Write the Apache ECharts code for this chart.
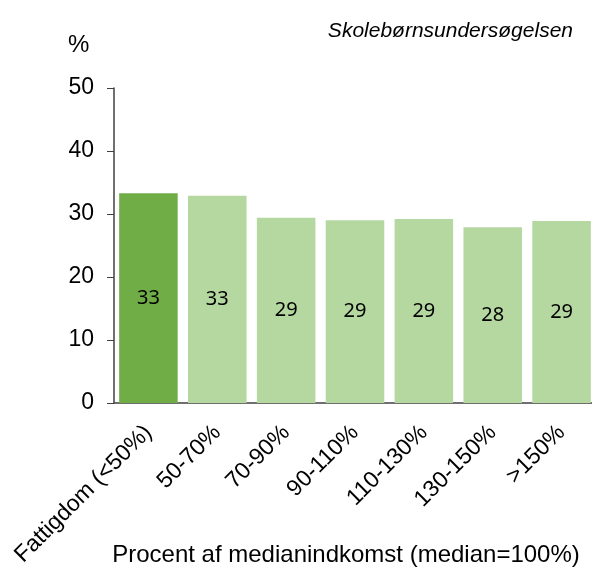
<!DOCTYPE html>
<html>
<head>
<meta charset="utf-8">
<script src="https://cdn.jsdelivr.net/npm/echarts@6/dist/echarts.min.js"></script>
<style>
  html, body { margin: 0; padding: 0; background: #fff; }
  #chart { width: 592px; height: 567px; }
</style>
</head>
<body>
<div id="chart"></div>
<script>
// 数据
const categories = ["Fattigdom (<50%)", "50-70%", "70-90%", "90-110%", "110-130%", "130-150%", ">150%"];
const values = [33.3, 32.9, 29.4, 29.0, 29.2, 27.9, 28.9];
const barColors = ["#70ad47", "#b5d8a0", "#b5d8a0", "#b5d8a0", "#b5d8a0", "#b5d8a0", "#b5d8a0"];
const yTicks = { min: 0, max: 50, interval: 10 };

const FONT = "Liberation Sans";

let chart = echarts.init(document.getElementById("chart"), null, { renderer: "canvas" });

chart.setOption({
  animation: false,
  backgroundColor: "#fff",
  title: [{
    text: "Skolebørnsundersøgelsen",
    right: 14,
    top: 16,
    textStyle: { fontFamily: FONT, fontStyle: "italic", fontWeight: "normal", fontSize: 21, color: "#000" }
  }, {
    text: "%",
    left: 63,
    top: 28,
    textStyle: { fontFamily: FONT, fontWeight: "normal", fontSize: 24, color: "#000" }
  }],
  // 网格固定位置，不随标签收缩
  grid: { left: 114, right: -4, top: 88, bottom: 164, outerBoundsMode: "none" },
  xAxis: {
    type: "category",
    data: categories,
    name: "Procent af medianindkomst (median=100%)",
    nameLocation: "middle",
    nameGap: 140,
    nameMoveOverlap: false,
    nameTextStyle: { fontFamily: FONT, fontSize: 24, color: "#000", padding: [0, 18, 0, 0] },
    axisLine: { lineStyle: { color: "#404040", width: 1.5 } },
    axisTick: { show: false },
    axisLabel: { rotate: 45, margin: 26, fontFamily: FONT, fontSize: 23, color: "#000" }
  },
  yAxis: {
    type: "value",
    min: yTicks.min,
    max: yTicks.max,
    interval: yTicks.interval,
    axisLine: { show: true, lineStyle: { color: "#404040", width: 1.5 } },
    axisTick: { show: true, length: 7, lineStyle: { color: "#404040" } },
    splitLine: { show: false },
    axisLabel: { margin: 20, fontFamily: FONT, fontSize: 23, color: "#000" }
  },
  series: [{
    type: "bar",
    barCategoryGap: "15%",
    data: values.map((v, i) => ({ value: v, itemStyle: { color: barColors[i] } })),
    label: {
      show: true,
      position: "inside",
      formatter: p => Math.round(p.value),
      fontFamily: "Noto Sans",
      fontSize: 20,
      color: "#000"
    }
  }]
});
</script>
</body>
</html>
